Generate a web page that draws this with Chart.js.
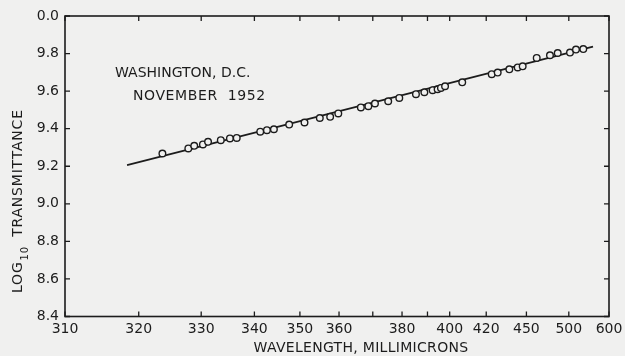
<!DOCTYPE html>
<html lang="en">
<head>
    <meta charset="UTF-8">
    <title>Log10 Transmittance - Washington, D.C., November 1952</title>
    <style>
        html, body {
            margin: 0;
            padding: 0;
            background-color: #f0f0ef;
        }
        canvas {
            display: block;
        }
    </style>
</head>
<body>
    <canvas id="chart" width="625" height="356"></canvas>

    <script src="https://cdn.jsdelivr.net/npm/chart.js"></script>

    <script>
      // observed points (wavelength in millimicrons, log10 transmittance)
      const wavelengths = [323.6, 327.8, 328.8, 330.3, 331.2, 333.5, 335.2, 336.5, 341.2, 342.6,
                           344.1, 347.5, 351.1, 354.9, 357.6, 359.8, 366.3, 368.6, 370.7, 375.1,
                           379.0, 385.3, 388.7, 392.2, 394.4, 395.9, 397.8, 406.3, 423.5, 427.5,
                           435.9, 442.5, 446.7, 459.8, 474.3, 484.0, 501.9, 512.0, 526.0];
      const logTransmittance = [9.268, 9.295, 9.309, 9.316, 9.330, 9.339, 9.348, 9.351, 9.384, 9.392,
                                9.397, 9.422, 9.433, 9.457, 9.463, 9.481, 9.513, 9.520, 9.534, 9.546,
                                9.564, 9.584, 9.594, 9.605, 9.610, 9.617, 9.626, 9.647, 9.690, 9.699,
                                9.716, 9.726, 9.732, 9.777, 9.791, 9.803, 9.805, 9.821, 9.824];

      // fitted straight line, end points
      const fitWavelengths = [318.3, 548.3];
      const fitValues = [9.206, 9.837];

      // axis ticks
      const xTickWavelengths = [310, 320, 330, 340, 350, 360, 370, 380, 390, 400, 420, 450, 500, 600];
      const xTickLabels = ['310', '320', '330', '340', '350', '360', '', '380', '', '400', '420', '450', '500', '600'];
      const yTickValues = [8.4, 8.6, 8.8, 9.0, 9.2, 9.4, 9.6, 9.8, 10.0];
      const yTickLabels = ['8.4', '8.6', '8.8', '9.0', '9.2', '9.4', '9.6', '9.8', '0.0'];

      const INK = '#1c1c1c';
      const PAPER = '#f0f0ef';
      const FONT = '"DejaVu Sans", sans-serif';

      // the wavelength axis is drawn on an inverse-power scale
      const P = 4.3;
      const tx = l => 1 - Math.pow(310 / l, P);

      const framePlugin = {
          id: 'frame',
          beforeDraw(chart) {
              const ctx = chart.ctx;
              ctx.save();
              ctx.fillStyle = PAPER;
              ctx.fillRect(0, 0, chart.width, chart.height);
              ctx.restore();
          },
          afterDraw(chart) {
              const ctx = chart.ctx;
              const a = chart.chartArea;
              const xs = chart.scales.x;
              const ys = chart.scales.y;
              const t = 5;
              ctx.save();
              ctx.strokeStyle = INK;
              ctx.lineWidth = 1.6;
              ctx.strokeRect(a.left, a.top, a.right - a.left, a.bottom - a.top);

              ctx.lineWidth = 1.3;
              ctx.beginPath();
              xTickWavelengths.forEach(l => {
                  const x = xs.getPixelForValue(tx(l));
                  ctx.moveTo(x, a.bottom); ctx.lineTo(x, a.bottom - t);
                  ctx.moveTo(x, a.top); ctx.lineTo(x, a.top + t);
              });
              yTickValues.forEach(v => {
                  const y = ys.getPixelForValue(v);
                  ctx.moveTo(a.left, y); ctx.lineTo(a.left + t, y);
                  ctx.moveTo(a.right, y); ctx.lineTo(a.right - t, y);
              });
              ctx.stroke();

              ctx.fillStyle = INK;
              ctx.textAlign = 'left';
              ctx.textBaseline = 'alphabetic';
              ctx.font = '14px ' + FONT;
              ctx.letterSpacing = '0px';
              ctx.fillText('WASHINGTON, D.C.', 115, 77);
              ctx.letterSpacing = '0.6px';
              ctx.fillText('NOVEMBER  1952', 133, 100);

              // x axis title
              ctx.letterSpacing = '0.3px';
              ctx.textAlign = 'center';
              ctx.fillText('WAVELENGTH, MILLIMICRONS', 361, 352);

              // y axis title, rotated, with subscript
              ctx.translate(22, 293);
              ctx.rotate(-Math.PI / 2);
              ctx.textAlign = 'left';
              ctx.letterSpacing = '0.8px';
              ctx.font = '14px ' + FONT;
              ctx.fillText('LOG', 0, 0);
              let w = ctx.measureText('LOG').width;
              ctx.font = '10px ' + FONT;
              ctx.fillText('10', w + 1, 6);
              w += ctx.measureText('10').width + 1;
              ctx.font = '14px ' + FONT;
              ctx.fillText(' TRANSMITTANCE', w + 4, 0);
              ctx.restore();
          }
      };

      new Chart(document.getElementById('chart').getContext('2d'), {
          type: 'scatter',
          data: {
              datasets: [
                  {
                      label: 'fit',
                      data: fitWavelengths.map((l, i) => ({ x: tx(l), y: fitValues[i] })),
                      showLine: true,
                      borderColor: INK,
                      borderWidth: 1.6,
                      pointRadius: 0,
                      order: 2
                  },
                  {
                      label: 'observed',
                      data: wavelengths.map((l, i) => ({ x: tx(l), y: logTransmittance[i] })),
                      pointRadius: 3.3,
                      pointBorderWidth: 1.4,
                      pointBorderColor: INK,
                      pointBackgroundColor: PAPER,
                      order: 1
                  }
              ]
          },
          options: {
              responsive: false,
              animation: false,
              devicePixelRatio: 1,
              layout: { padding: { top: 16, right: 16, left: 0, bottom: 0 } },
              plugins: {
                  legend: { display: false },
                  tooltip: { enabled: false }
              },
              scales: {
                  x: {
                      type: 'linear',
                      min: 0,
                      max: tx(600),
                      afterBuildTicks: s => { s.ticks = xTickWavelengths.map(l => ({ value: tx(l) })); },
                      afterFit: s => { s.height = 39.5; },
                      grid: { display: false },
                      border: { display: false },
                      ticks: {
                          autoSkip: false,
                          maxRotation: 0,
                          padding: -4,
                          color: INK,
                          font: { family: FONT, size: 14 },
                          callback: (v, i) => xTickLabels[i]
                      }
                  },
                  y: {
                      min: 8.4,
                      max: 10.0,
                      afterBuildTicks: s => { s.ticks = yTickValues.map(v => ({ value: v })); },
                      afterFit: s => { s.width = 65; },
                      grid: { display: false },
                      border: { display: false },
                      ticks: {
                          padding: -2,
                          color: INK,
                          font: { family: FONT, size: 14 },
                          callback: (v, i) => yTickLabels[i]
                      }
                  }
              }
          },
          plugins: [framePlugin]
      });
    </script>
</body>
</html>
